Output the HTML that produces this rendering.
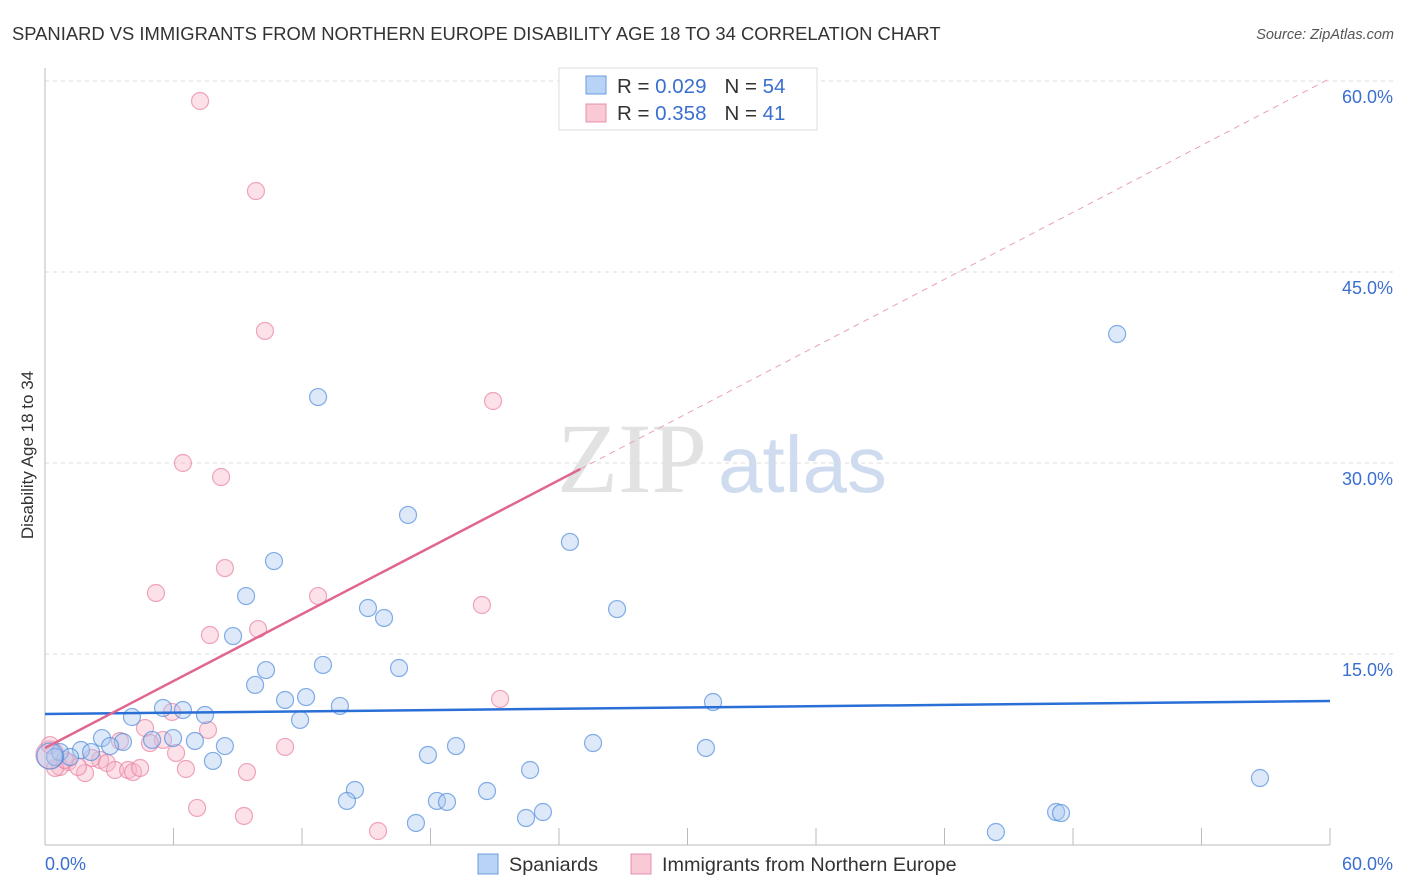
<!DOCTYPE html>
<html><head><meta charset="utf-8"><style>
body{margin:0;background:#fff;font-family:"Liberation Sans",sans-serif}
svg{display:block}
</style></head><body>
<svg id="c" width="1406" height="892">
<text x="12" y="40" font-size="18.4" fill="#333">SPANIARD VS IMMIGRANTS FROM NORTHERN EUROPE DISABILITY AGE 18 TO 34 CORRELATION CHART</text>
<text x="1394" y="39" font-size="14.5" fill="#555" text-anchor="end" font-style="italic">Source: ZipAtlas.com</text>
<text x="557" y="492" font-size="100" fill="#e2e2e2" font-family="Liberation Serif">ZIP</text>
<text x="718" y="492" font-size="80" fill="#cfdcf0">atlas</text>
<text transform="translate(33,455) rotate(-90)" font-size="17" fill="#333" text-anchor="middle">Disability Age 18 to 34</text>
<g id="grid"></g><g id="pts"></g><g id="trend"></g>
<g>
<rect x="559" y="68" width="258" height="62" fill="#fff" stroke="#ddd"/>
<rect x="586" y="76" width="20" height="18" fill="#b8d3f6" stroke="#6a9ee0"/>
<rect x="586" y="104" width="20" height="18" fill="#f9c9d6" stroke="#e890a8"/>
<text x="617" y="93" font-size="20.5" fill="#333">R = <tspan fill="#3a6fd0">0.029</tspan><tspan dx="18">N = </tspan><tspan fill="#3a6fd0">54</tspan></text>
<text x="617" y="120" font-size="20.5" fill="#333">R = <tspan fill="#3a6fd0">0.358</tspan><tspan dx="18">N = </tspan><tspan fill="#3a6fd0"> 41</tspan></text>
</g>
<g>
<rect x="478" y="854" width="20" height="20" fill="#b8d3f6" stroke="#6a9ee0"/>
<text x="509" y="871" font-size="19.8" fill="#333">Spaniards</text>
<rect x="631" y="854" width="20" height="20" fill="#f9c9d6" stroke="#e890a8"/>
<text x="662" y="871" font-size="19.8" fill="#333">Immigrants from Northern Europe</text>
</g>
</svg>
<script>
const yTicks=[15,30,45,60];
const yTickLabels=["15.0%","30.0%","45.0%","60.0%"];
const xTicks=[0,6,12,18,24,30,36,42,48,54,60];
const spX=[12.75,50.06,16.95,24.51,10.69,9.39,15.08,15.83,26.71,8.78,10.32,12.98,16.53,9.81,11.21,12.19,13.77,31.19,5.51,6.44,7.47,4.06,11.91,5.00,5.98,7.00,8.40,3.64,2.66,3.04,1.68,2.15,0.70,1.17,0.47,7.84,17.88,19.19,25.59,30.86,22.65,14.47,14.10,18.30,18.77,20.64,23.25,22.46,17.32,47.21,47.44,44.40,56.73,0.23];
const spY=[35.18,40.13,25.92,23.80,22.30,19.55,18.61,17.83,18.53,16.41,13.74,14.14,13.90,12.57,11.39,11.62,10.92,11.23,10.76,10.60,10.21,10.05,9.82,8.25,8.40,8.17,7.77,8.09,8.40,7.77,7.46,7.30,7.30,6.91,6.91,6.60,7.07,7.77,8.01,7.62,5.89,4.32,3.46,3.46,3.38,4.24,2.59,2.12,1.73,2.59,2.51,1.02,5.26,6.99];
const neX=[7.24,9.85,10.27,20.92,6.44,8.22,8.40,5.18,12.75,20.40,7.70,9.95,21.25,5.93,4.67,7.61,5.51,4.90,6.12,11.21,3.50,2.57,2.19,2.89,3.27,3.88,4.11,1.07,0.70,1.87,1.54,0.47,0.23,6.58,9.43,7.10,9.29,15.55,0.23,0.93,4.44];
const neY=[58.43,51.36,40.37,34.87,30.00,28.90,21.75,19.79,19.55,18.85,16.49,16.96,11.47,10.45,9.19,9.03,8.25,8.01,7.23,7.70,8.17,6.68,6.83,6.44,5.89,5.89,5.73,6.52,6.13,5.65,6.13,6.05,7.07,5.97,5.73,2.91,2.28,1.10,7.85,6.68,6.05];
const spTrend=[10.29,11.31];
const neTrend=[7.62,60.2];
const X=v=>45+v/60*1285, Y=v=>845-v/15*191;
const NS='http://www.w3.org/2000/svg';
function mk(p,t,a){const e=document.createElementNS(NS,t);for(const k in a)e.setAttribute(k,a[k]);p.appendChild(e);return e;}
const g=document.getElementById('grid');
yTicks.forEach((t,i)=>{
 const l=mk(g,'line',{x1:45,x2:1394,y1:Y(t),y2:Y(t),stroke:'#ddd','stroke-dasharray':'4,4'});
 
 
 const tx=mk(g,'text',{x:1393,y:Y(t)+22,'font-size':18,fill:'#3a6fd0','text-anchor':'end'});tx.textContent=yTickLabels[i];
 
 
});
mk(g,'line',{x1:45,x2:45,y1:68,y2:845,stroke:'#bbb'});
mk(g,'line',{x1:45,x2:1330,y1:845,y2:845,stroke:'#bbb'});
xTicks.forEach(t=>{const l=mk(g,'line',{x1:X(t),x2:X(t),y1:828,y2:845,stroke:'#bbb'});
 
 });
const a=mk(g,'text',{x:45,y:870,'font-size':18,fill:'#3a6fd0'});a.textContent='0.0%';


const b=mk(g,'text',{x:1393,y:870,'font-size':18,fill:'#3a6fd0','text-anchor':'end'});b.textContent='60.0%';


const p=document.getElementById('pts');
neX.forEach((v,i)=>{const c=mk(p,'circle',{cx:X(v),cy:Y(neY[i]),r:i==32?14:8.5,fill:'rgba(248,180,200,0.4)',stroke:'rgba(232,130,160,0.7)','stroke-width':1.2});
 
 });
spX.forEach((v,i)=>{const c=mk(p,'circle',{cx:X(v),cy:Y(spY[i]),r:i==53?13:8.5,fill:'rgba(170,200,240,0.4)',stroke:'rgba(80,140,220,0.7)','stroke-width':1.2});
 
 });
const tr=document.getElementById('trend');
const l1=mk(tr,'line',{x1:X(0),y1:Y(spTrend[0]),x2:X(60),y2:Y(spTrend[1]),stroke:'#2a6fd6','stroke-width':2.5});


const ny=x=>neTrend[0]+(neTrend[1]-neTrend[0])*x/60;
const l2=mk(tr,'line',{x1:X(0),y1:Y(ny(0)),x2:X(25),y2:Y(ny(25)),stroke:'#e06690','stroke-width':2.5});


const l3=mk(tr,'line',{x1:X(25),y1:Y(ny(25)),x2:X(60),y2:Y(ny(60)),stroke:'#e8a0b8','stroke-width':1,'stroke-dasharray':'6,5'});


</script>
</body></html>
